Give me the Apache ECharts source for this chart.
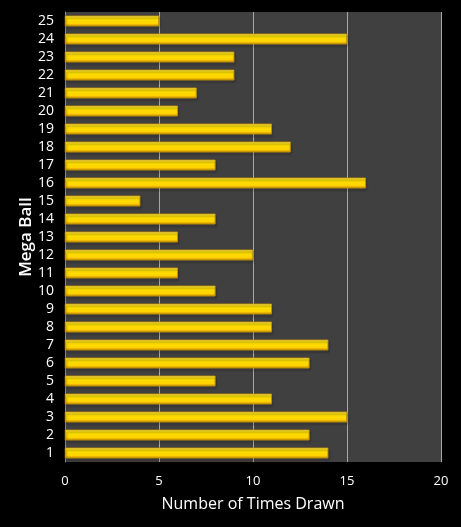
<!DOCTYPE html>
<html>
<head>
<meta charset="utf-8">
<script src="https://cdn.jsdelivr.net/npm/echarts@6/dist/echarts.min.js"></script>
<style>
  html, body { margin: 0; padding: 0; background: #000; }
  #chart { width: 461px; height: 527px; }
</style>
</head>
<body>
<div id="chart"></div>
<script>
// Mega Ball numbers, bottom to top
const balls = ['1', '2', '3', '4', '5', '6', '7', '8', '9', '10', '11', '12', '13',
  '14', '15', '16', '17', '18', '19', '20', '21', '22', '23', '24', '25']
const timesDrawn = [14, 13, 15, 11, 8, 13, 14, 11, 11, 8, 6, 10, 6,
  8, 4, 16, 8, 12, 11, 6, 7, 9, 9, 15, 5]
const xTicks = [0, 5, 10, 15, 20]

const chart = echarts.init(document.getElementById('chart'))

const barColor = new echarts.graphic.LinearGradient(0, 0, 0, 1, [
  { offset: 0, color: '#fff27a' },
  { offset: 0.2, color: '#ffe400' },
  { offset: 0.75, color: '#ffd200' },
  { offset: 1, color: '#c08a00' }
])

chart.setOption({
  backgroundColor: '#000',
  textStyle: { fontFamily: 'Open Sans, sans-serif' },
  grid: {
    left: 65,
    right: 20,
    top: 12,
    bottom: 65,
    show: true,
    backgroundColor: '#404040',
    borderWidth: 0
  },
  xAxis: {
    type: 'value',
    min: xTicks[0],
    max: xTicks[xTicks.length - 1],
    interval: 5,
    name: 'Number of Times Drawn',
    nameLocation: 'middle',
    nameGap: 34,
    nameMoveOverlap: false,
    nameTextStyle: { color: '#fff', fontSize: 16 },
    axisLine: { show: false },
    axisTick: { show: false },
    axisLabel: { color: '#fff', fontSize: 13, margin: 13 },
    splitLine: { lineStyle: { color: '#a8a8a8', width: 1 } }
  },
  yAxis: {
    type: 'category',
    data: balls,
    name: 'Mega Ball',
    nameLocation: 'middle',
    nameGap: 30,
    nameMoveOverlap: false,
    nameRotate: 90,
    nameTextStyle: { color: '#fff', fontSize: 17, fontWeight: 600 },
    axisLine: { show: true, lineStyle: { color: '#8a8a8a', width: 1 } },
    axisTick: { show: false },
    axisLabel: { color: '#fff', fontSize: 14, margin: 11, interval: 0 }
  },
  series: [{
    type: 'bar',
    data: timesDrawn,
    barWidth: '58%',
    itemStyle: {
      color: barColor,
      borderColor: '#c89400',
      borderWidth: 0.5,
      shadowColor: 'rgba(0,0,0,0.55)',
      shadowBlur: 2,
      shadowOffsetX: 1,
      shadowOffsetY: 2
    },
    silent: true
  }]
})
</script>
</body>
</html>
